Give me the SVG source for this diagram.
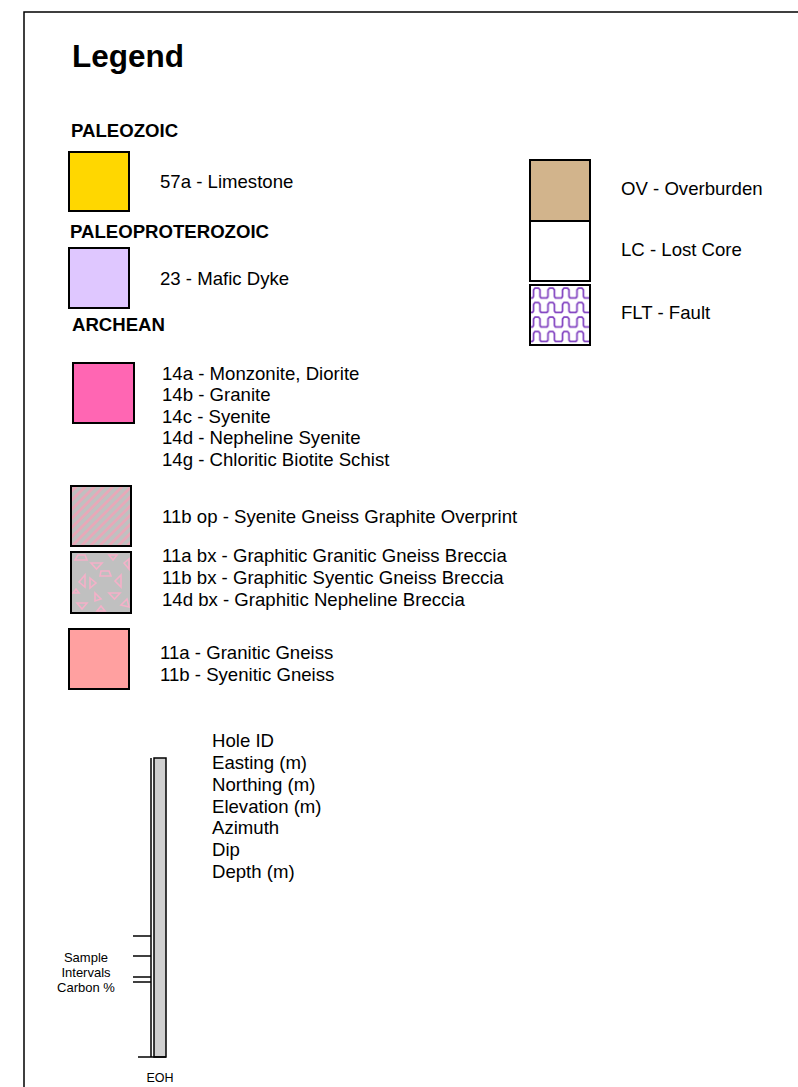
<svg xmlns="http://www.w3.org/2000/svg" width="798" height="1087" viewBox="0 0 798 1087">
<style>
text{font-family:"Liberation Sans",Arial,sans-serif;fill:#000}
.t{font-size:18.6px}
.h{font-size:18.6px;font-weight:bold}
.s{font-size:13px;text-anchor:middle}
.box{stroke:#000;stroke-width:2}
.ln{stroke:#000;stroke-width:1.5;fill:none}
</style>
<defs>
<pattern id="hatch" width="6.5" height="6.5" patternUnits="userSpaceOnUse" patternTransform="rotate(45)">
<rect width="6.5" height="6.5" fill="#c0c0c0"/>
<rect width="2.8" height="6.5" fill="#e8a8b8"/>
</pattern>
<pattern id="brec" x="71" y="553" width="60" height="60" patternUnits="userSpaceOnUse">
<rect width="60" height="60" fill="#c0c0c0"/>
<g fill="none" stroke="#f5b0c8" stroke-width="1.6">
<path d="M4,7 L7,2 L14,2 L16,7 Z"/>
<path d="M20,10 L31,10 L25.5,16 Z"/>
<path d="M38,2 L46,2 L42,7 Z"/>
<path d="M30,18 L38,18 L40,23 L29,23 Z"/>
<path d="M53,10 L58,6 L58,16 Z"/>
<path d="M8,29 L14,22 L14,34 Z"/>
<path d="M19,25 L25,30 L19,35 Z"/>
<path d="M44,28 L50,22 L50,34 Z"/>
<path d="M2,40 L5,36 L8,40 Z"/>
<path d="M24,40 L30,46 L24,48 Z"/>
<path d="M38,40 L49,40 L43.5,46 Z"/>
<path d="M6,50 L16,50 L11,56 Z"/>
<path d="M26,58 L34,58 L30,53 Z"/>
<path d="M50,52 L56,46 L58,54 Z"/>
</g>
</pattern>
<pattern id="fault" x="531" y="286" width="14.5" height="14.5" patternUnits="userSpaceOnUse">
<rect width="14.5" height="14.5" fill="#fff"/>
<path d="M0,12 L1.5,12 L2.5,10.5 L2.5,4 L4,2 L7.5,2 L9,4 L9,10.5 L10,12 L14.5,12" fill="none" stroke="#8040c0" stroke-width="1.7"/>
</pattern>
</defs>

<g id="border">
<path class="ln" d="M24,1087 L24,12 L798,12" stroke-width="2"/>
</g>

<g id="title"><text x="72" y="67" style="font-size:31.5px;font-weight:bold">Legend</text></g>

<g id="headings">
<text class="h" x="71" y="137">PALEOZOIC</text>
<text class="h" x="70" y="238">PALEOPROTEROZOIC</text>
<text class="h" x="72" y="331">ARCHEAN</text>
</g>

<g id="n57a">
<rect class="box" x="69" y="152" width="60" height="59" fill="#ffd700"/>
<text class="t" x="160" y="188">57a - Limestone</text>
</g>

<g id="n23">
<rect class="box" x="69" y="248" width="60" height="60" fill="#dfc7ff"/>
<text class="t" x="160" y="285">23 - Mafic Dyke</text>
</g>

<g id="n14">
<rect class="box" x="73" y="363" width="61" height="60" fill="#ff66b3"/>
<text class="t" x="162" y="380">14a - Monzonite, Diorite</text>
<text class="t" x="162" y="401">14b - Granite</text>
<text class="t" x="162" y="423">14c - Syenite</text>
<text class="t" x="162" y="444">14d - Nepheline Syenite</text>
<text class="t" x="162" y="466">14g - Chloritic Biotite Schist</text>
</g>

<g id="n11bop">
<rect class="box" x="71" y="486" width="60" height="60" fill="url(#hatch)"/>
<text class="t" x="162" y="523">11b op - Syenite Gneiss Graphite Overprint</text>
</g>

<g id="nbx">
<rect class="box" x="71" y="552" width="60" height="61" fill="url(#brec)"/>
<text class="t" x="162" y="562">11a bx - Graphitic Granitic Gneiss Breccia</text>
<text class="t" x="162" y="584">11b bx - Graphitic Syentic Gneiss Breccia</text>
<text class="t" x="162" y="606">14d bx - Graphitic Nepheline Breccia</text>
</g>

<g id="n11">
<rect class="box" x="69" y="629" width="60" height="60" fill="#ffa0a0"/>
<text class="t" x="160" y="659">11a - Granitic Gneiss</text>
<text class="t" x="160" y="681">11b - Syenitic Gneiss</text>
</g>

<g id="nOV">
<rect class="box" x="530" y="160" width="60" height="61" fill="#d2b48c"/>
<text class="t" x="621" y="195">OV - Overburden</text>
</g>

<g id="nLC">
<rect class="box" x="530" y="221" width="60" height="60" fill="#fff"/>
<text class="t" x="621" y="256">LC - Lost Core</text>
</g>

<g id="nFLT">
<rect class="box" x="530" y="285" width="60" height="60" fill="url(#fault)"/>
<text class="t" x="621" y="319">FLT - Fault</text>
</g>

<g id="hole">
<line class="ln" x1="151" y1="758" x2="151" y2="1057"/>
<rect x="154" y="758" width="12" height="299" fill="#d0d0d0" stroke="#000" stroke-width="1.5"/>
<line class="ln" x1="138" y1="1057" x2="166" y2="1057"/>
<text class="t" x="212" y="747">Hole ID</text>
<text class="t" x="212" y="769">Easting (m)</text>
<text class="t" x="212" y="791">Northing (m)</text>
<text class="t" x="212" y="813">Elevation (m)</text>
<text class="t" x="212" y="834">Azimuth</text>
<text class="t" x="212" y="856">Dip</text>
<text class="t" x="212" y="878">Depth (m)</text>
</g>

<g id="connectors">
<line class="ln" x1="133" y1="936" x2="151" y2="936"/>
<line class="ln" x1="133" y1="956" x2="151" y2="956"/>
<line class="ln" x1="133" y1="977" x2="151" y2="977"/>
<line class="ln" x1="133" y1="982" x2="151" y2="982"/>
</g>

<g id="samples">
<text class="s" x="86" y="962">Sample</text>
<text class="s" x="86" y="977">Intervals</text>
<text class="s" x="86" y="992">Carbon %</text>
<text class="s" x="160" y="1082" style="font-size:12.5px">EOH</text>
</g>
</svg>
